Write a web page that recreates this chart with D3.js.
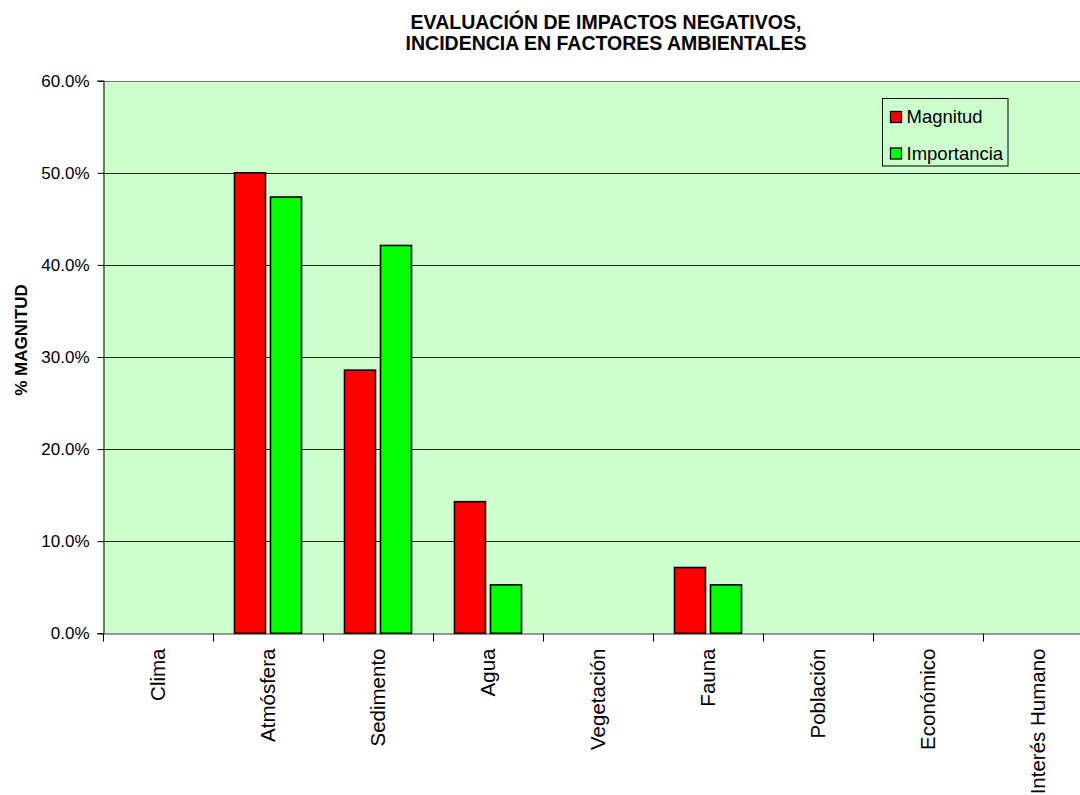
<!DOCTYPE html>
<html>
<head>
<meta charset="utf-8">
<script src="https://cdn.jsdelivr.net/npm/d3@7/dist/d3.min.js"></script>
<style>
  html, body { margin: 0; padding: 0; background: #fff; }
  svg { display: block; font-family: "Liberation Sans", Arial, sans-serif; }
</style>
</head>
<body>
<svg id="chart" width="1080" height="795"></svg>
<script>
// Factores ambientales evaluados
const categories = ["Clima", "Atmósfera", "Sedimento", "Agua", "Vegetación", "Fauna", "Población", "Económico", "Interés Humano"];
const seriesNames = ["Magnitud", "Importancia"];
// Porcentajes de incidencia por factor
const magnitud    = [0, 0.5, 0.2857, 0.1429, 0, 0.0714, 0, 0, 0];
const importancia = [0, 0.4737, 0.4211, 0.0526, 0, 0.0526, 0, 0, 0];
const yTicks = [0, 0.1, 0.2, 0.3, 0.4, 0.5, 0.6];
const titleLines = ["EVALUACIÓN DE IMPACTOS NEGATIVOS,", "INCIDENCIA EN FACTORES AMBIENTALES"];
const yTitle = "% MAGNITUD";

const colors = { Magnitud: "#ff0000", Importancia: "#00ff00" };
const values = { Magnitud: magnitud, Importancia: importancia };

const svg = d3.select("#chart");
const plot = { left: 103, right: 1093, top: 80.7, bottom: 633.3 };

const x = d3.scaleBand().domain(categories).range([plot.left, plot.right]).padding(0);
const xs = d3.scaleBand().domain(seriesNames).range([21.5, 88.5]).paddingInner(0.1389).paddingOuter(0);
const y = d3.scaleLinear().domain([0, 0.6]).range([plot.bottom, plot.top]);

// Fondo del área de trazado
svg.append("rect")
  .attr("x", plot.left).attr("y", plot.top)
  .attr("width", plot.right - plot.left).attr("height", plot.bottom - plot.top)
  .attr("fill", "#ccffcc");

// Líneas de división horizontales
svg.append("g").selectAll("line").data(yTicks.filter(d => d > 0)).join("line")
  .attr("x1", plot.left).attr("x2", plot.right)
  .attr("y1", d => Math.round(y(d)) + 0.5).attr("y2", d => Math.round(y(d)) + 0.5)
  .attr("stroke", d => d === 0.6 ? "#777" : "#222").attr("stroke-width", 1);

// Barras agrupadas
const groups = svg.append("g").selectAll("g").data(categories).join("g")
  .attr("transform", d => `translate(${x(d)},0)`);
groups.selectAll("rect")
  .data((d, i) => seriesNames.map(s => ({ s, v: values[s][i] })).filter(e => e.v > 0))
  .join("rect")
  .attr("x", e => xs(e.s))
  .attr("width", xs.bandwidth())
  .attr("y", e => y(e.v))
  .attr("height", e => y(0) - y(e.v))
  .attr("fill", e => colors[e.s])
  .attr("stroke", "#000").attr("stroke-width", 1.6);

// Eje Y
const yAxis = d3.axisLeft(y).tickValues(yTicks).tickFormat(d3.format(".1%")).tickSize(6).tickPadding(8);
const gy = svg.append("g").attr("transform", `translate(${plot.left + 0.5},0)`).call(yAxis);
gy.select(".domain").attr("stroke", "#000");
gy.selectAll(".tick line").attr("stroke", "#000");
gy.selectAll(".tick text").attr("font-size", 17).attr("fill", "#000")
  .attr("font-family", "Liberation Sans, Arial, sans-serif");

// Eje X
const xAxis = d3.axisBottom(x).tickValues([]).tickSizeOuter(0);
const gx = svg.append("g").attr("transform", `translate(0,${Math.round(plot.bottom) + 0.5})`).call(xAxis);
gx.select(".domain").attr("stroke", "#333");
const edges = categories.map(c => x(c));
gx.selectAll("line.sep").data(edges).join("line").attr("class", "sep")
  .attr("x1", d => Math.round(d) + 0.5).attr("x2", d => Math.round(d) + 0.5)
  .attr("y1", 0).attr("y2", 8).attr("stroke", "#000");
gx.selectAll("text.cat").data(categories).join("text").attr("class", "cat")
  .attr("transform", d => `translate(${x(d) + x.bandwidth() / 2},15) rotate(-90)`)
  .attr("dy", "0.35em")
  .attr("text-anchor", "end")
  .attr("font-size", 20.5)
  .attr("fill", "#000")
  .text(d => d);

// Título
svg.append("g").selectAll("text").data(titleLines).join("text")
  .attr("x", 606).attr("y", (d, i) => 29 + i * 20.5)
  .attr("text-anchor", "middle")
  .attr("font-size", 19.5).attr("font-weight", "bold").attr("fill", "#000")
  .text(d => d);

// Título del eje Y
svg.append("text")
  .attr("transform", `translate(21,340) rotate(-90)`)
  .attr("dy", "0.35em")
  .attr("text-anchor", "middle")
  .attr("font-size", 17).attr("font-weight", "bold").attr("fill", "#000")
  .text(yTitle);

// Leyenda
const legend = svg.append("g");
legend.append("rect")
  .attr("x", 882.5).attr("y", 98.5).attr("width", 125.5).attr("height", 67.5)
  .attr("fill", "none").attr("stroke", "#000").attr("stroke-width", 1);
const items = legend.selectAll("g.item").data(seriesNames).join("g").attr("class", "item")
  .attr("transform", (d, i) => `translate(890,${111 + i * 36.5})`);
items.append("rect").attr("x", 0.5).attr("y", 0.5).attr("width", 11).attr("height", 11)
  .attr("fill", d => colors[d]).attr("stroke", "#000").attr("stroke-width", 1.3);
items.append("text").attr("x", 16.5).attr("y", 12.3)
  .attr("font-size", 18.5).attr("fill", "#000").text(d => d);
</script>
</body>
</html>
